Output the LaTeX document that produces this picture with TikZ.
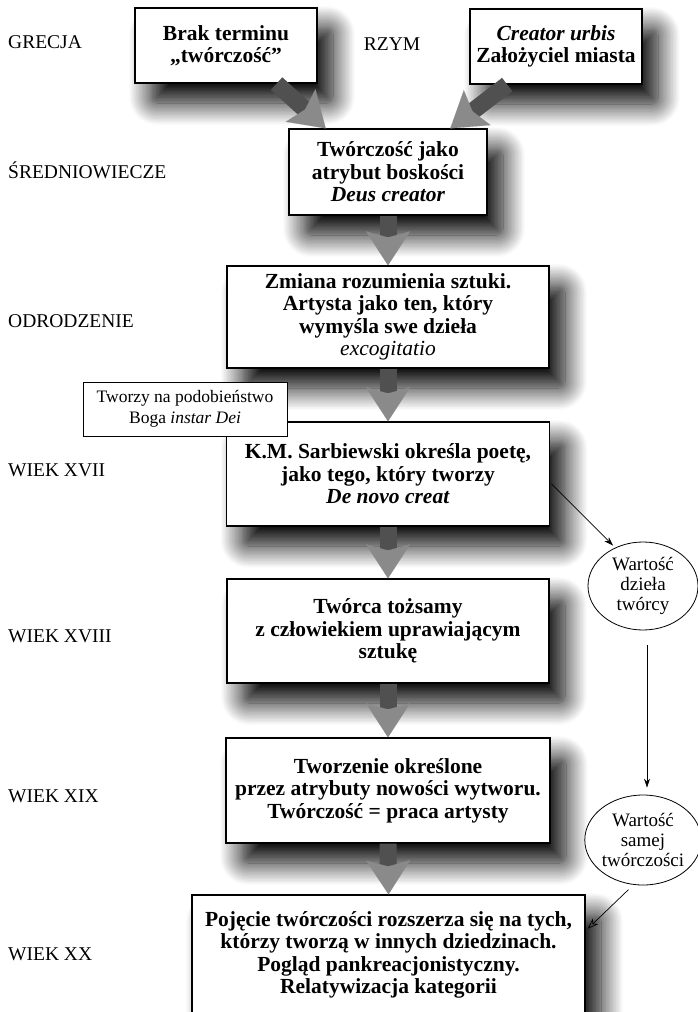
\documentclass[tikz,border=0pt]{standalone}
\usepackage{fontspec}
\setmainfont{Liberation Serif}
\usetikzlibrary{arrows.meta,shapes.geometric,shadows.blur}
\definecolor{shaftgray}{RGB}{80,80,80}
\definecolor{headgray}{RGB}{138,138,138}

\begin{document}
\begin{tikzpicture}[x=1pt,y=-1pt,
    era/.style={anchor=base west,inner sep=0pt,font=\fontsize{19.5}{22}\selectfont},
    stage/.style={draw,line width=1.2pt,fill=white,align=center,inner sep=4pt,
        font=\fontsize{21.5}{22.5}\selectfont\bfseries,
        blur shadow={shadow xshift=16pt,shadow yshift=-20pt,shadow blur radius=22pt,shadow opacity=100,shadow blur steps=16,shadow blur extra rounding=6pt}},
    value/.style={ellipse,draw,line width=0.8pt,fill=white,align=center,inner sep=0pt,
        font=\fontsize{19}{20}\selectfont},
    fat/.style={line width=17pt,draw=shaftgray,
        -{Stealth[inset=6pt,length=34pt,width=44pt,line width=0.1pt,color=headgray]}},
    link/.style={line width=0.7pt,-{Stealth[length=9pt,width=6pt]}}]
    \useasboundingbox (0,0) rectangle (698,1012);

    \node[era] (grecja) at (8,48) {GRECJA};
    \node[era,anchor=base] (rzym) at (392,50) {RZYM};
    \node[era] (sredn) at (8,178) {ŚREDNIOWIECZE};
    \node[era] (odrodz) at (8,327) {ODRODZENIE};
    \node[era] (w17) at (8,476) {WIEK XVII};
    \node[era] (w18) at (8,642) {WIEK XVIII};
    \node[era] (w19) at (8,802) {WIEK XIX};
    \node[era] (w20) at (8,960) {WIEK XX};

    \node[stage,minimum width=182pt,minimum height=75pt] (brak) at (226,45.5) {Brak terminu\\„twórczość”};
    \node[stage,minimum width=172pt,minimum height=75pt] (urbis) at (556,46.5) {\textit{Creator urbis}\\Założyciel miasta};
    \node[stage,minimum width=198pt,minimum height=86pt] (bosk) at (388,172) {Twórczość jako\\atrybut boskości\\\textit{Deus creator}};
    \node[stage,minimum width=322pt,minimum height=102pt] (zmiana) at (388,317) {Zmiana rozumienia sztuki.\\Artysta jako ten, który\\wymyśla swe dzieła\\{\mdseries\itshape excogitatio}};
    \node[stage,minimum width=323pt,minimum height=104pt] (sarb) at (388,474) {K.M. Sarbiewski określa poetę,\\jako tego, który tworzy\\\textit{De novo creat}};
    \node[stage,minimum width=322pt,minimum height=104pt] (tozs) at (388,631) {Twórca tożsamy\\z człowiekiem uprawiającym\\sztukę};
    \node[stage,minimum width=324pt,minimum height=105pt] (nowosc) at (388,790.5) {Tworzenie określone\\przez atrybuty nowości wytworu.\\Twórczość = praca artysty};
    \node[stage,minimum width=393pt,minimum height=120pt] (pojecie) at (388.5,955) {Pojęcie twórczości rozszerza się na tych,\\którzy tworzą w innych dziedzinach.\\Pogląd pankreacjonistyczny.\\Relatywizacja kategorii};

    \node[value,minimum width=110pt,minimum height=88pt] (dziela) at (643,586) {Wartość\\dzieła\\twórcy};
    \node[value,minimum width=111pt,minimum height=90pt] (samej) at (643,840) {Wartość\\samej\\twórczości};

    \draw[fat] (brak.-37) -- (bosk.145);
    \draw[fat] (urbis.218) -- (bosk.35);
    \draw[fat] (bosk.south) -- (zmiana.north);
    \draw[fat] (zmiana.south) -- (sarb.north);
    \draw[fat] (sarb.south) -- (tozs.north);
    \draw[fat] (tozs.south) -- (nowosc.north);
    \draw[fat] (nowosc.south) -- (pojecie.north);

    \node[draw,line width=1pt,fill=white,align=center,minimum width=204pt,minimum height=54pt,
        font=\fontsize{17.5}{21}\selectfont] (podob) at (185,409) {Tworzy na podobieństwo\\Boga \textit{instar Dei}};

    \draw[link,shorten <=2pt,shorten >=3pt] (sarb.-3) -- (dziela.126);
    \draw[link,shorten <=15pt,shorten >=7pt] ([xshift=4pt]dziela.south) -- ([xshift=4pt]samej.north);
    \draw[line width=0.7pt,-{Stealth[open,length=11pt,width=8pt]},shorten <=7pt,shorten >=3pt] (samej.258) -- (pojecie.7);
\end{tikzpicture}
\end{document}
